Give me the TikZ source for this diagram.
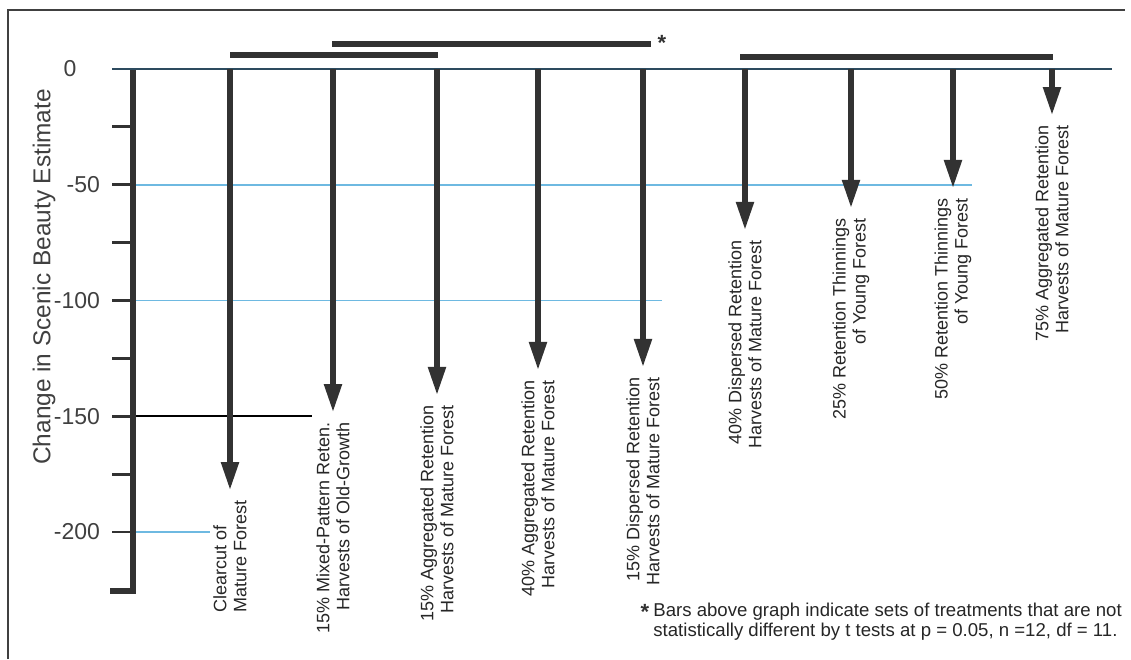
\documentclass[tikz,border=0pt]{standalone}
\usepackage{fontspec}
\setmainfont{Liberation Sans}
\usetikzlibrary{arrows.meta}
\definecolor{gridblue}{RGB}{110,185,225}
\definecolor{zeroblue}{RGB}{45,75,95}
\definecolor{inkgray}{RGB}{50,50,50}

\begin{document}
\begin{tikzpicture}[x=0.5pt,y=1.1575pt,
	drop/.style={line width=2.6pt,color=inkgray,-{Triangle[length=14pt,width=8.5pt]}},
	sigbar/.style={line width=3pt,color=inkgray},
	gridline/.style={line width=0.8pt,color=gridblue},
	tickmark/.style={line width=1.4pt,color=inkgray},
	ticklab/.style={anchor=east,text=black!75,font=\fontsize{11.5}{13}\selectfont},
	starmark/.style={text=inkgray,font=\fontsize{11}{12}\bfseries},
	trt/.style={rotate=90,anchor=east,inner sep=0pt,text=black!85,font=\fontsize{9}{10}\selectfont}]
	
	\useasboundingbox (0,29.8) rectangle (1131,-254.9);
	
	% frame of the scan
	\draw[line width=0.6pt,color=black!75] (8,-254.9)--(8,25.5)--(1125,25.5);
	
	\draw[gridline] (133,-50)--(972,-50);
	\draw[gridline] (133,-100)--(662,-100);
	\draw[line width=0.8pt,color=black] (133,-150)--(312,-150);
	\draw[gridline] (133,-200)--(210,-200);
	
	% axis
	\draw[line width=2.6pt,color=inkgray] (133,0)--(133,-225.5)--(110,-225.5);
	\foreach \v in {-25,-50,...,-200}
		\draw[tickmark] (112,\v)--(133,\v);
	\draw[line width=1.2pt,color=zeroblue] (112,0)--(1112,0);
	
	\node[text=black!75,font=\fontsize{11.5}{13}\selectfont] (lab0) at (70,0) {0};
	\foreach \v in {50,100,150,200}
		\node[ticklab] (lab\v) at (107,-\v) {-\v};
	
	\node[rotate=90,text=black!75,font=\fontsize{12.2}{14}\selectfont] (ytitle) at (44,-89.8) {Change in Scenic Beauty Estimate};
	
	% treatments
	\foreach \n/\x/\v/\al/\txt in {
		clear/230/-181.9/left/{Clearcut of\\Mature Forest},
		mixed/333/-148.2/right/{15\% Mixed-Pattern Reten.\\Harvests of Old-Growth},
		aggA/437/-140.8/right/{15\% Aggregated Retention\\Harvests of Mature Forest},
		aggB/538/-130/right/{40\% Aggregated Retention\\Harvests of Mature Forest},
		dispA/643/-128.7/right/{15\% Dispersed Retention\\Harvests of Mature Forest},
		dispB/745/-69.5/right/{40\% Dispersed Retention\\Harvests of Mature Forest},
		thinA/851/-60/right/{25\% Retention Thinnings\\of Young Forest},
		thinB/953/-51.4/right/{50\% Retention Thinnings\\of Young Forest},
		aggC/1052/-19.9/right/{75\% Aggregated Retention\\Harvests of Mature Forest}}
	{
		\coordinate (\n-top) at (\x,0);
		\coordinate (\n-end) at (\x,\v);
		\draw[drop] (\n-top)--(\n-end);
		\node[trt,align=\al] (\n-lab) at ([yshift=-5pt]\n-end) {\txt};
	}
	
	% bars above graph
	\draw[sigbar] (230,6)--(438,6);
	\draw[sigbar] (332,11)--(651,11);
	\draw[sigbar] (740,5.2)--(1053,5.2);
	\node[starmark] (star) at (662,11.4) {*};
	
	\node[anchor=north west,align=left,inner sep=0pt,text=black!85,font=\fontsize{9.3}{10}\selectfont] (note) at (653,-230.7)
		{Bars above graph indicate sets of treatments that are not\\statistically different by t tests at p = 0.05, n =12, df = 11.};
	\node[starmark] (notestar) at (645,-234.6) {*};
	
\end{tikzpicture}
\end{document}
